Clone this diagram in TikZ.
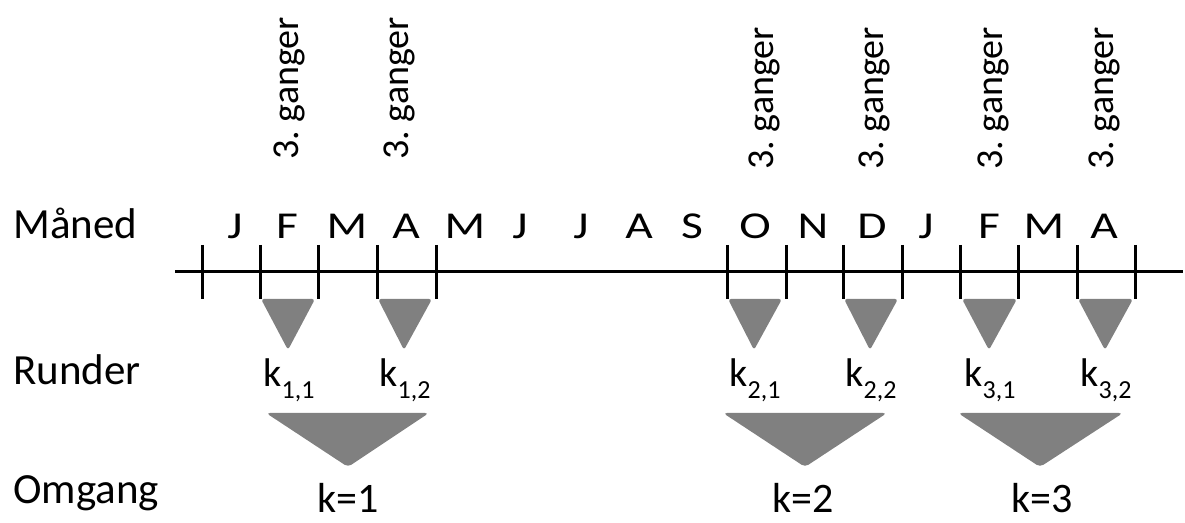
\documentclass[tikz,border=0pt]{standalone}
\usepackage{fontspec}
\setmainfont{Carlito}
\usepackage{tikz}
\frenchspacing
\definecolor{trigray}{RGB}{128, 128, 128}
\newcommand{\rundeidx}[1]{k\raisebox{-6pt}{\fontsize{13}{13}\selectfont #1}}
\tikzset{
  rowlabel/.style={font=\fontsize{21.5}{21.5}\selectfont, anchor=base west, inner sep=0pt},
  monthlabel/.style={font=\fontsize{19}{19}\selectfont, anchor=base, inner sep=0pt},
  gangerlabel/.style={font=\fontsize{19}{19}\selectfont, rotate=90, anchor=base west, inner sep=0pt},
  rundelabel/.style={font=\fontsize{20}{20}\selectfont, anchor=base, inner sep=0pt},
  omganglabel/.style={font=\fontsize{21}{21}\selectfont, anchor=base, inner sep=0pt},
  axisline/.style={line width=1.5pt},
  monthtick/.style={line width=1.5pt},
  smalltri/.style={fill=trigray, rounded corners=1.5pt},
  bigtri/.style={fill=trigray, rounded corners=2pt},
}

\begin{document}
\begin{tikzpicture}[x=0.5pt, y=-0.5pt]
  \useasboundingbox (0,0) rectangle (1185,523);

  % row labels
  \node[rowlabel] (maned) at (13,239) {Måned};
  \node[rowlabel] (runder) at (13,385) {Runder};
  \node[rowlabel] (omgang) at (13,504) {Omgang};

  % time axis
  \draw[axisline] (175,272) -- (1183,272);
  \foreach \x [count=\i] in {202,260,318,377,436,727,786,843,902,960,1018,1077,1135} {
    \coordinate (t\i) at (\x,272);
    \draw[monthtick] (\x,245) -- (\x,299);
  }

  % months
  \foreach \m/\x [count=\i] in {J/235,F/287,M/347,A/406,M/465,J/520,J/581,A/639,S/692,
                                O/755,N/813,D/872,J/926,F/989,M/1044,A/1104} {
    \node[monthlabel] (m\i) at (\x,239) {\scalebox{1.25}[1]{\m}};
  }

  % 3. ganger
  \node[gangerlabel] (g1) at (298,160) {3. ganger};
  \node[gangerlabel] (g2) at (408,160) {3. ganger};
  \node[gangerlabel] (g3) at (773,170) {3. ganger};
  \node[gangerlabel] (g4) at (883,170) {3. ganger};
  \node[gangerlabel] (g5) at (1002,170) {3. ganger};
  \node[gangerlabel] (g6) at (1113,170) {3. ganger};

  % runder
  \fill[smalltri] (261,299) -- (315,299) -- (288,350) -- cycle;
  \fill[smalltri] (378,299) -- (432,299) -- (404,350) -- cycle;
  \fill[smalltri] (728,299) -- (782,299) -- (754,350) -- cycle;
  \fill[smalltri] (844,299) -- (898,299) -- (870,350) -- cycle;
  \fill[smalltri] (962,299) -- (1017,299) -- (989,350) -- cycle;
  \fill[smalltri] (1078,299) -- (1133,299) -- (1105,350) -- cycle;

  \node[rundelabel] (k11) at (289,387) {\rundeidx{1,1}};
  \node[rundelabel] (k12) at (405,387) {\rundeidx{1,2}};
  \node[rundelabel] (k21) at (755,387) {\rundeidx{2,1}};
  \node[rundelabel] (k22) at (871,387) {\rundeidx{2,2}};
  \node[rundelabel] (k31) at (990,387) {\rundeidx{3,1}};
  \node[rundelabel] (k32) at (1106,387) {\rundeidx{3,2}};

  % omganger
  \fill[bigtri] (266,413) -- (429,413) -- (348,467) -- cycle;
  \fill[bigtri] (723,413) -- (887,413) -- (805,467) -- cycle;
  \fill[bigtri] (958,413) -- (1123,413) -- (1040,467) -- cycle;

  \node[omganglabel] (o1) at (348,513) {k=1};
  \node[omganglabel] (o2) at (803,513) {k=2};
  \node[omganglabel] (o3) at (1042,513) {k=3};
\end{tikzpicture}
\end{document}
